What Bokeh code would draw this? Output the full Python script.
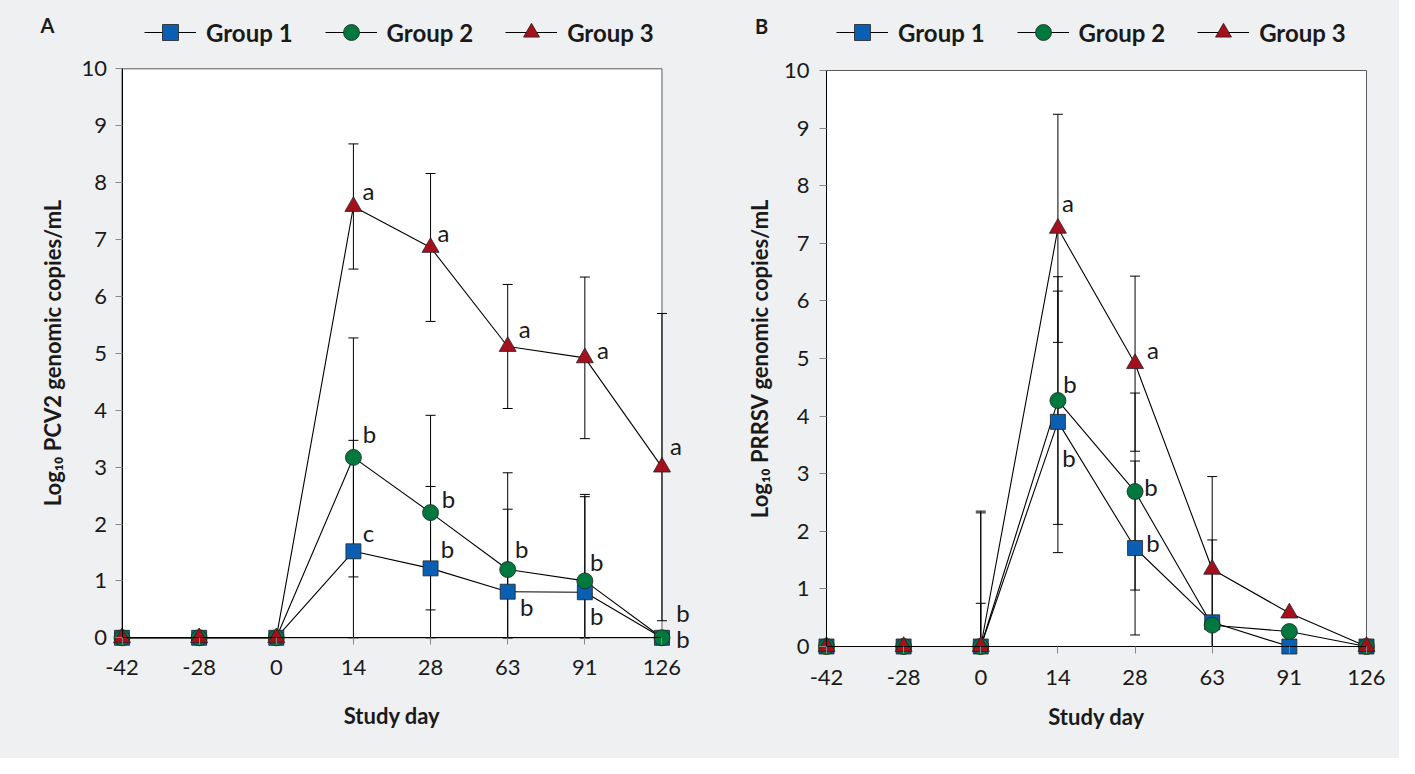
from bokeh.plotting import figure
from bokeh.models import (Range1d, FixedTicker, Whisker, TeeHead, ColumnDataSource,
                          Legend, LegendItem, Label)
from bokeh.layouts import row
from bokeh.embed import file_html
from bokeh.resources import INLINE
from bokeh.core.properties import value

# ---------------- data ----------------
days = ["-42", "-28", "0", "14", "28", "63", "91", "126"]
groups = ["Group 1", "Group 2", "Group 3"]

# Panel A: PCV2 (log10 genomic copies/mL), mean and SD
pcv2_g1 = [0, 0, 0, 1.52, 1.22, 0.81, 0.80, 0]
pcv2_g2 = [0, 0, 0, 3.17, 2.20, 1.20, 1.00, 0]
pcv2_g3 = [0, 0, 0, 7.58, 6.86, 5.12, 4.92, 3.00]
pcv2_g1_sd = [0, 0, 0, 1.95, 1.44, 1.45, 1.68, 0]
pcv2_g2_sd = [0, 0, 0, 2.10, 1.71, 1.70, 1.52, 0]
pcv2_g3_sd = [0, 0, 0, 1.10, 1.30, 1.09, 1.42, 2.70]
pcv2_g1_sig = ["", "", "", "c", "b", "b", "b", "b"]
pcv2_g2_sig = ["", "", "", "b", "b", "b", "b", "b"]
pcv2_g3_sig = ["", "", "", "a", "a", "a", "a", "a"]

# Panel B: PRRSV
prrsv_g1 = [0, 0, 0, 3.90, 1.71, 0.42, 0, 0]
prrsv_g2 = [0, 0, 0, 4.27, 2.69, 0.37, 0.26, 0]
prrsv_g3 = [0, 0, 0, 7.26, 4.91, 1.34, 0.58, 0]
prrsv_g1_sd = [0, 0, 0.75, 2.27, 1.51, 1.43, 0, 0]
prrsv_g2_sd = [0, 0, 2.32, 2.15, 1.71, 0, 0, 0]
prrsv_g3_sd = [0, 0, 2.35, 1.98, 1.52, 1.61, 0, 0]
prrsv_g1_sig = ["", "", "", "b", "b", "", "", ""]
prrsv_g2_sig = ["", "", "", "b", "b", "", "", ""]
prrsv_g3_sig = ["", "", "", "a", "a", "", "", ""]

y_ticks = list(range(0, 11))

# ---------------- layout / style ----------------
FONT = "Lato"
BG = "#eff0f2"
colors = ["#0b5fb3", "#00783e", "#a5101c"]
markers = ["square", "circle", "triangle"]
msizes = [15, 16, 17]
HEIGHT = 758

# label offsets (screen px, dx right, dy down)
A_off = {
    2: ([0, 0, 0, 15, 13, 17, 18, 14], [0, 0, 0, -16, -15, -18, -8, -22]),
    1: ([0, 0, 0, 16, 18, 14, 12, 21], [0, 0, 0, -24, -14, -21, -19, -25]),
    0: ([0, 0, 0, 15, 17, 19, 12, 21], [0, 0, 0, -19, -20, 15, 23, 1]),
}
B_off = {
    2: ([0, 0, 0, 10, 18, 0, 0, 0], [0, 0, 0, -26, -14, 0, 0, 0]),
    1: ([0, 0, 0, 12, 16, 0, 0, 0], [0, 0, 0, -17, -5, 0, 0, 0]),
    0: ([0, 0, 0, 11, 18, 0, 0, 0], [0, 0, 0, 36, -6, 0, 0, 0]),
}


def make_panel(letter, ylabel, means, sds, sigs, offs, width, x0_px, y0_px, xppu, yppu,
               ytick_standoff, ylab_standoff, xtick_standoff, xlab_standoff,
               legend_x, letter_xy):
    xs = list(range(len(days)))
    # the frame covers the whole canvas; axes are pinned at data positions
    xr = Range1d(-x0_px / xppu, (width - x0_px) / xppu)
    yr = Range1d(-(HEIGHT - y0_px) / yppu, y0_px / yppu)
    p = figure(width=width, height=HEIGHT, output_backend="svg", toolbar_location=None,
               x_range=xr, y_range=yr,
               min_border_left=0, min_border_right=0, min_border_top=0, min_border_bottom=0,
               background_fill_color=BG, border_fill_color=BG, outline_line_color=None)
    p.grid.visible = False

    # white plot box
    box = p.quad(left=[xs[0]], right=[xs[-1]], bottom=[y_ticks[0]], top=[y_ticks[-1]],
                 fill_color="white", line_color="#5a5a5a", line_width=1)
    box.level = "image"

    # error bars
    for g in range(3):
        base, up, lo = [], [], []
        for i, (m, s) in enumerate(zip(means[g], sds[g])):
            if s > 0:
                base.append(xs[i]); up.append(m + s); lo.append(max(m - s, 0))
        src = ColumnDataSource(dict(base=base, upper=up, lower=lo))
        w = Whisker(source=src, base="base", upper="upper", lower="lower", dimension="height",
                    line_color="black", line_width=1,
                    upper_head=TeeHead(size=10, line_color="black", line_width=1),
                    lower_head=TeeHead(size=10, line_color="black", line_width=1))
        w.level = "underlay"
        p.add_layout(w)

    lines = []
    for g in range(3):
        lines.append(p.line(xs, means[g], line_color="black", line_width=1.1))
    scats = []
    for g in range(3):
        scats.append(p.scatter(xs, means[g], marker=markers[g], size=msizes[g],
                               fill_color=colors[g], line_color="#222222", line_width=0.8))

    # significance letters
    for g in [2, 1, 0]:
        idx = [i for i, t in enumerate(sigs[g]) if t]
        src = ColumnDataSource(dict(x=[xs[i] for i in idx], y=[means[g][i] for i in idx],
                                    t=[sigs[g][i] for i in idx],
                                    dx=[offs[g][0][i] for i in idx],
                                    dy=[offs[g][1][i] for i in idx]))
        p.text(x="x", y="y", text="t", x_offset="dx", y_offset="dy", source=src,
               text_font=value(FONT), text_font_size="24px", text_color="#1a1a1a",
               text_align="center", text_baseline="middle")

    # axes pinned to the box edges
    p.xaxis.ticker = FixedTicker(ticks=xs)
    p.xaxis.major_label_overrides = {i: d for i, d in enumerate(days)}
    p.yaxis.ticker = FixedTicker(ticks=y_ticks)
    p.xaxis.fixed_location = y_ticks[0]
    p.yaxis.fixed_location = xs[0]
    p.xaxis.bounds = (xs[0], xs[-1])
    p.yaxis.bounds = (y_ticks[0], y_ticks[-1])
    for ax in (p.xaxis[0], p.yaxis[0]):
        ax.axis_line_color = "black"
        ax.axis_line_width = 1
        ax.major_tick_out = 7
        ax.major_tick_in = 0
        ax.minor_tick_in = 0
        ax.minor_tick_out = 0
        ax.major_tick_line_color = "#888888"
        ax.major_label_text_font = FONT
        ax.major_label_text_font_size = "22px"
        ax.major_label_text_color = "#1a1a1a"
        ax.axis_label_text_font = FONT
        ax.axis_label_text_font_size = "22px"
        ax.axis_label_text_font_style = "bold"
        ax.axis_label_text_color = "#1a1a1a"
    p.yaxis.major_label_standoff = ytick_standoff
    p.yaxis.axis_label = ylabel
    p.yaxis.axis_label_standoff = ylab_standoff
    p.xaxis.major_label_standoff = xtick_standoff
    p.xaxis.axis_label = "Study day"
    p.xaxis.axis_label_standoff = xlab_standoff

    # legend
    items = [LegendItem(label=groups[g], renderers=[lines[g], scats[g]]) for g in range(3)]
    leg = Legend(items=items, orientation="horizontal",
                 location=(legend_x, HEIGHT - 12 - 40),
                 glyph_width=52, glyph_height=40, label_standoff=10, spacing=32,
                 padding=0, margin=0, border_line_color=None, background_fill_alpha=0,
                 label_text_font=FONT, label_text_font_size="24px",
                 label_text_font_style="bold", label_text_color="#1a1a1a")
    p.add_layout(leg)

    p.add_layout(Label(x=letter_xy[0], y=HEIGHT - letter_xy[1], x_units="screen",
                       y_units="screen", text=letter, text_font=FONT, text_font_size="20px",
                       text_font_style="bold", text_color="#1a1a1a",
                       text_align="center", text_baseline="middle"))
    return p


pA = make_panel("A", "Log\u2081\u2080 PCV2 genomic copies/mL",
                [pcv2_g1, pcv2_g2, pcv2_g3], [pcv2_g1_sd, pcv2_g2_sd, pcv2_g3_sd],
                [pcv2_g1_sig, pcv2_g2_sig, pcv2_g3_sig], A_off,
                710, 121.5, 637.3, 77.14, 56.9, 8, 13, 15, 24, 144, (47, 24))
pB = make_panel("B", "Log\u2081\u2080 PRRSV genomic copies/mL",
                [prrsv_g1, prrsv_g2, prrsv_g3], [prrsv_g1_sd, prrsv_g2_sd, prrsv_g3_sd],
                [prrsv_g1_sig, prrsv_g2_sig, prrsv_g3_sig], B_off,
                689, 116, 646, 77.14, 57.6, 10, 8, 16, 15, 126, (51, 25))

layout = row(pA, pB, styles={"background-color": BG})
open("out.html", "w").write(file_html(layout, INLINE))
